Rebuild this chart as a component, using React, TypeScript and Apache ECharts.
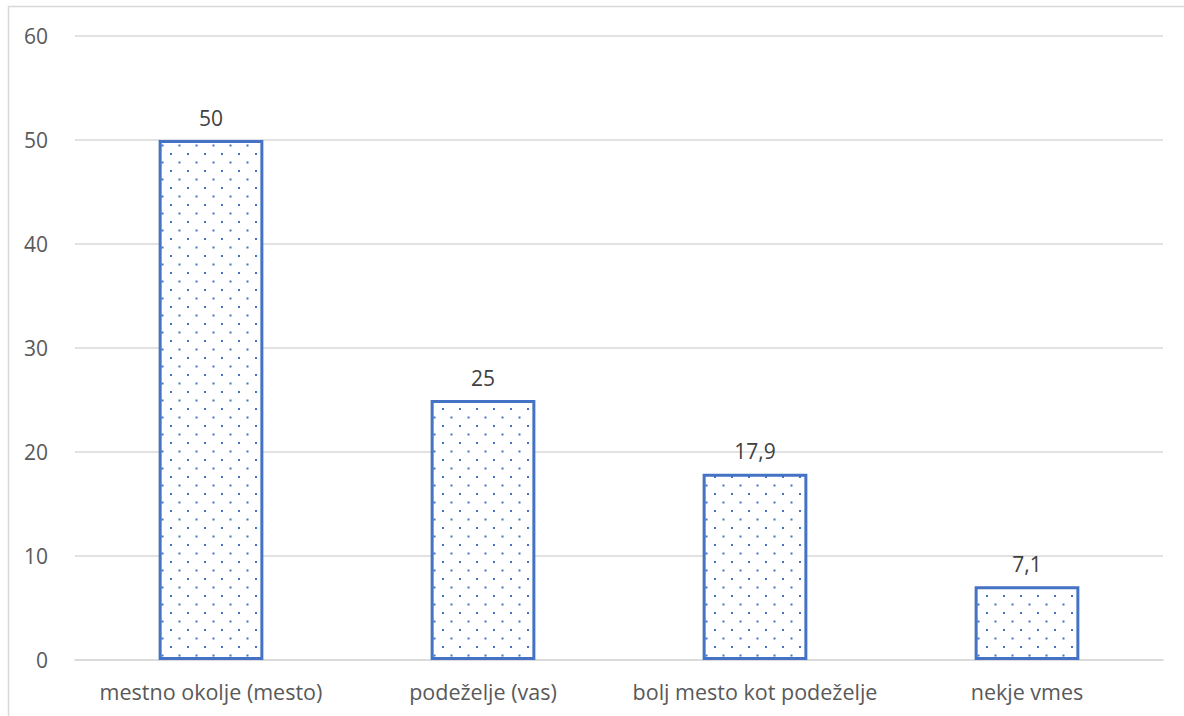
import React, { useEffect, useRef } from "react";
import * as echarts from "echarts";

const categories = ["mestno okolje (mesto)", "podeželje (vas)", "bolj mesto kot podeželje", "nekje vmes"];
const values = [50, 25, 17.9, 7.1];
const yTicks = [0, 10, 20, 30, 40, 50, 60];

function makePattern(): HTMLCanvasElement {
  const c = document.createElement("canvas");
  c.width = 17;
  c.height = 17;
  const ctx = c.getContext("2d")!;
  ctx.fillStyle = "#ffffff";
  ctx.fillRect(0, 0, 17, 17);
  ctx.fillStyle = "#4472C4";
  ctx.fillRect(0, 0, 2, 2);
  ctx.fillRect(8.5, 8.5, 2, 2);
  return c;
}

const FONT = "Open Sans";

export default function App() {
  const ref = useRef<HTMLDivElement>(null);
  useEffect(() => {
    if (!ref.current) return;
    const chart = echarts.init(ref.current, undefined, { renderer: "svg" });
    const pattern = makePattern();
    chart.setOption({
      animation: false,
      backgroundColor: "#ffffff",
      textStyle: { fontFamily: FONT },
      graphic: [
        {
          type: "rect",
          shape: { x: 8.5, y: 6.5, width: 1200, height: 720 },
          style: { fill: "none", stroke: "#d9d9d9", lineWidth: 1.5 },
          silent: true,
          z: -1,
        },
      ],
      grid: { left: 75, right: 21, top: 36, bottom: 56, containLabel: false },
      xAxis: {
        type: "category",
        data: categories,
        axisLine: { show: true, lineStyle: { color: "#d9d9d9", width: 1.5 } },
        axisTick: { show: false },
        axisLabel: {
          color: "#595959",
          fontSize: 21.5,
          margin: 20,
          fontFamily: FONT,
          interval: 0,
          hideOverlap: false,
        },
      },
      yAxis: {
        type: "value",
        min: yTicks[0],
        max: yTicks[yTicks.length - 1],
        interval: 10,
        axisLine: { show: false },
        axisTick: { show: false },
        axisLabel: { color: "#595959", fontSize: 21, margin: 27, fontFamily: FONT },
        splitLine: { lineStyle: { color: "#d9d9d9", width: 1.5 } },
      },
      series: [
        {
          type: "bar",
          data: values,
          barWidth: "38.5%",
          itemStyle: {
            color: { image: pattern, repeat: "repeat" },
            borderColor: "#4472C4",
            borderWidth: 3,
          },
          label: {
            show: true,
            position: "top",
            distance: 12,
            color: "#404040",
            fontSize: 21,
            fontFamily: FONT,
            formatter: (p: any) => String(p.value).replace(".", ","),
          },
        },
      ],
    });
    return () => chart.dispose();
  }, []);
  return (
    <div
      ref={ref}
      style={{ position: "fixed", left: 0, top: 0, width: 1184, height: 716 }}
    />
  );
}
